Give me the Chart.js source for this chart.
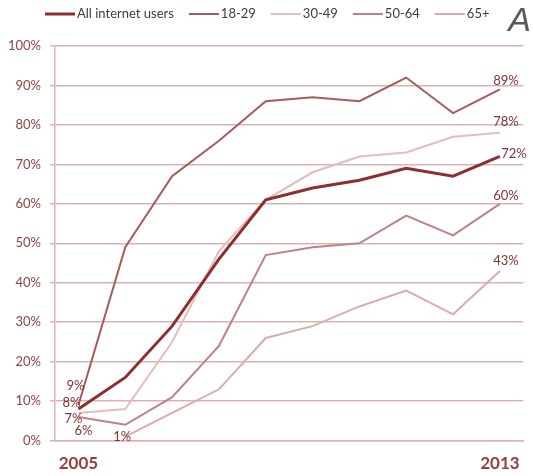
<!DOCTYPE html>
<html>
<head>
<meta charset="utf-8">
<script src="https://cdn.jsdelivr.net/npm/chart.js@4.4.1/dist/chart.umd.min.js"></script>
<style>
  html, body { margin: 0; padding: 0; background: #fff; }
  #wrap { position: relative; width: 533px; height: 476px; }
  #panel { position: absolute; right: 2px; top: 0px; font: italic 34px "Liberation Sans", Arial, sans-serif; color: #5a5a5a; }
</style>
</head>
<body>
<div id="wrap">
  <canvas id="usageChart" width="533" height="476"></canvas>
  <div id="panel">A</div>
</div>
<script>
// survey waves, 2005 .. 2013
const waves = ["2005", "2006", "2008", "2009", "2010", "2011", "2011", "2012", "2012", "2013"];
const allUsers = [8, 16, 29, 46, 61, 64, 66, 69, 67, 72];
const age18to29 = [9, 49, 67, 76, 86, 87, 86, 92, 83, 89];
const age30to49 = [7, 8, 25, 48, 61, 68, 72, 73, 77, 78];
const age50to64 = [6, 4, 11, 24, 47, 49, 50, 57, 52, 60];
const age65plus = [null, 1, 7, 13, 26, 29, 34, 38, 32, 43];
const yTicks = [0, 10, 20, 30, 40, 50, 60, 70, 80, 90, 100];

// which points get a % label, and how far the text sits from the point
const pointLabels = [
  { ds: 1, i: 0, dx: -3, dy: -19 },
  { ds: 0, i: 0, dx: -7, dy: -6 },
  { ds: 2, i: 0, dx: -5, dy: 6 },
  { ds: 3, i: 0, dx: 5, dy: 14 },
  { ds: 4, i: 1, dx: -3, dy: 0 },
  { ds: 1, i: 9, dx: 6, dy: -9 },
  { ds: 2, i: 9, dx: 6, dy: -11 },
  { ds: 0, i: 9, dx: 14, dy: -3 },
  { ds: 3, i: 9, dx: 6, dy: -8 },
  { ds: 4, i: 9, dx: 6, dy: -10 }
];

const valueLabels = {
  id: "valueLabels",
  afterDatasetsDraw(chart) {
    const ctx = chart.ctx;
    ctx.save();
    ctx.font = "13px Lato, sans-serif";
    ctx.fillStyle = "#7d3434";
    ctx.textAlign = "center";
    ctx.textBaseline = "middle";
    pointLabels.forEach(l => {
      const pt = chart.getDatasetMeta(l.ds).data[l.i];
      const v = chart.data.datasets[l.ds].data[l.i];
      ctx.fillText(v + "%", pt.x + l.dx, pt.y + l.dy);
    });
    ctx.restore();
  }
};

// one-row legend: short line sample, then the series name right after it
const lineLegend = {
  id: "lineLegend",
  afterDraw(chart) {
    const ctx = chart.ctx;
    const y = 14;
    let x = 45;
    ctx.save();
    ctx.font = "13px Lato, sans-serif";
    ctx.textBaseline = "middle";
    ctx.textAlign = "left";
    chart.data.datasets.forEach(ds => {
      ctx.strokeStyle = ds.borderColor;
      ctx.lineWidth = ds.borderWidth;
      ctx.beginPath();
      ctx.moveTo(x, y);
      ctx.lineTo(x + 30, y);
      ctx.stroke();
      x += 32;
      ctx.fillStyle = "#3c3c3c";
      ctx.fillText(ds.label, x, y);
      x += ctx.measureText(ds.label).width + 15;
    });
    ctx.restore();
  }
};

function series(label, data, color, width) {
  return {
    label, data,
    borderColor: color,
    backgroundColor: color,
    borderWidth: width,
    pointRadius: 0,
    tension: 0,
    spanGaps: false
  };
}

const gridColor = "#dcb3b3";

new Chart(document.getElementById("usageChart"), {
  type: "line",
  data: {
    labels: waves,
    datasets: [
      series("All internet users", allUsers, "#8e2f2f", 3),
      series("18-29", age18to29, "#a65b5b", 2),
      series("30-49", age30to49, "#e0bebe", 2),
      series("50-64", age50to64, "#bd8282", 2),
      series("65+", age65plus, "#d9acac", 2)
    ]
  },
  options: {
    responsive: false,
    animation: false,
    layout: { padding: { left: -1, right: 8, top: 46, bottom: -11 } },
    plugins: {
      legend: { display: false },
      tooltip: { enabled: false }
    },
    scales: {
      x: {
        offset: true,
        grid: { display: false, drawTicks: false },
        border: { display: true, color: gridColor, width: 1.5 },
        ticks: {
          autoSkip: false,
          maxRotation: 0,
          padding: 13,
          color: "#9a3c3c",
          font: { family: "Lato", size: 17, weight: "bold" },
          callback: (v, i) => (i === 0 || i === waves.length - 1) ? waves[i] : ""
        }
      },
      y: {
        min: 0,
        max: 100,
        afterBuildTicks: axis => { axis.ticks = yTicks.map(v => ({ value: v })); },
        grid: { color: gridColor, lineWidth: 1.5, tickLength: 5 },
        border: { color: gridColor, width: 1.5 },
        ticks: {
          padding: 9,
          color: "#8c4444",
          font: { family: "Lato", size: 13 },
          callback: v => v + "%"
        }
      }
    }
  },
  plugins: [valueLabels, lineLegend]
});
</script>
</body>
</html>
